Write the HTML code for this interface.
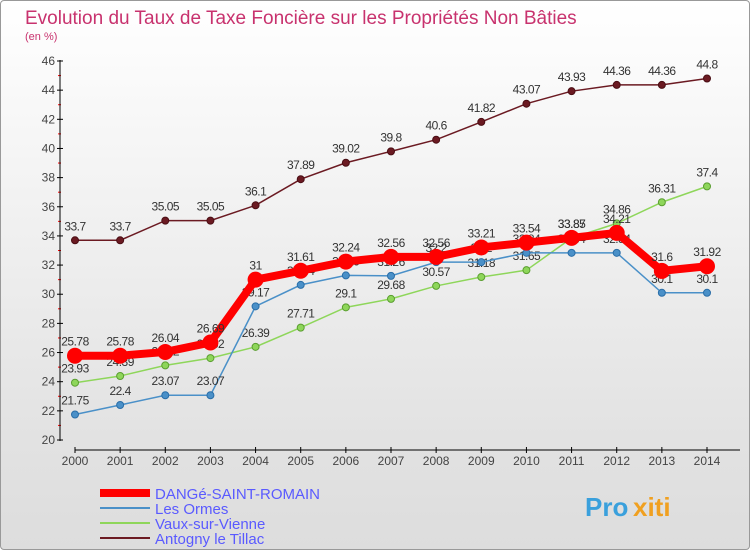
<!DOCTYPE html>
<html><head><meta charset="utf-8"><style>
body{margin:0;width:750px;height:550px;overflow:hidden;font-family:"Liberation Sans",sans-serif}
#c{position:absolute;left:0;top:0;width:748px;height:548px;border:1px solid #999;border-radius:4px;background:linear-gradient(#fff,#e2e2e2 80%,#ddd)}
</style></head><body>
<div id="c">
<svg id="s" width="750" height="550" style="position:absolute;left:-1px;top:-1px"></svg>
</div>
<script>
const years=["2000","2001","2002","2003","2004","2005","2006","2007","2008","2009","2010","2011","2012","2013","2014"];
const yTicks=[20,22,24,26,28,30,32,34,36,38,40,42,44,46];
const dange=[25.78,25.78,26.04,26.69,31,31.61,32.24,32.56,32.56,33.21,33.54,33.87,34.21,31.6,31.92];
const ormes=[21.75,22.4,23.07,23.07,29.17,30.64,31.29,31.26,32.2,32.2,32.84,32.84,32.84,30.1,30.1];
const vaux=[23.93,24.39,25.12,25.62,26.39,27.71,29.1,29.68,30.57,31.18,31.65,33.85,34.86,36.31,37.4];
const antogny=[33.7,33.7,35.05,35.05,36.1,37.89,39.02,39.8,40.6,41.82,43.07,43.93,44.36,44.36,44.8];
const NS="http://www.w3.org/2000/svg",s=document.getElementById('s');
const X=i=>75+i*(707-75)/14, Y=v=>440-(v-20)*(440-61)/26;
function el(t,a,p){const e=document.createElementNS(NS,t);for(const k in a)e.setAttribute(k,a[k]);(p||s).appendChild(e);return e;}
function tx(x,y,str,a){const e=el('text',Object.assign({x:x,y:y},a));e.textContent=str;return e;}
const t1=tx(25,24,"Evolution du Taux de Taxe Foncière sur les Propriétés Non Bâties",{fill:"#c8326e","font-size":19});

const t2=tx(25,40,"(en %)",{fill:"#c8326e","font-size":11});

yTicks.forEach(v=>{el('line',{x1:57,x2:63,y1:Y(v),y2:Y(v),stroke:"#000"});
const t=tx(55,Y(v)+4,v,{"text-anchor":"end","font-size":12,fill:"#444"});

if(v<46)el('line',{x1:58,x2:61,y1:Y(v+1),y2:Y(v+1),stroke:"#f00"});});
years.forEach((y,i)=>{el('line',{x1:X(i),x2:X(i),y1:447,y2:453,stroke:"#000"});
const t=tx(X(i),465,y,{"text-anchor":"middle","font-size":12,fill:"#444"});
});
const ax=el('line',{x1:60,x2:60,y1:60,y2:441,stroke:"#000"});

const bx=el('line',{x1:75,x2:740,y1:450,y2:450,stroke:"#000"});

function series(d,col,w,r,name,stroke){const g=el('g',{});

el('polyline',{points:d.map((v,i)=>X(i)+","+Y(v)).join(" "),fill:"none",stroke:col,"stroke-width":w},g);
d.forEach((v,i)=>{const c=el('circle',{cx:X(i),cy:Y(v),r:r,fill:col,stroke:stroke,"stroke-width":1},g);

const t=tx(X(i),Y(v)-10,String(v),{"text-anchor":"middle","font-size":12,fill:"#333","letter-spacing":"-0.5"},g);
});}
series(antogny,"#6b1a22",1.5,3.5,"series-antogny","#4a0e14");
series(vaux,"#8ed65a",1.5,3.5,"series-vaux","#5a9e30");
series(ormes,"#4a90c8",1.5,3.5,"series-ormes","#2a6ea8");
series(dange,"#f00",8,7.5,"series-dange","#f00");
const leg=[["DANGé-SAINT-ROMAIN","#f00",8],["Les Ormes","#4a90c8",2],["Vaux-sur-Vienne","#8ed65a",2],["Antogny le Tillac","#6b1a22",2]];
leg.forEach((L,i)=>{const g=el('g',{});
const y=493+i*15;el('line',{x1:100,x2:150,y1:y,y2:y,stroke:L[1],"stroke-width":L[2]},g);
tx(155,y+6,L[0],{"font-size":15,fill:"#5a5aff"},g);});
const p=tx(585,516,"Pro",{"font-size":26,"font-weight":"bold",fill:"#3aa0dc"});

const p2=tx(633,516,"xiti",{"font-size":26,"font-weight":"bold",fill:"#f0a020"});

</script>
</body></html>
